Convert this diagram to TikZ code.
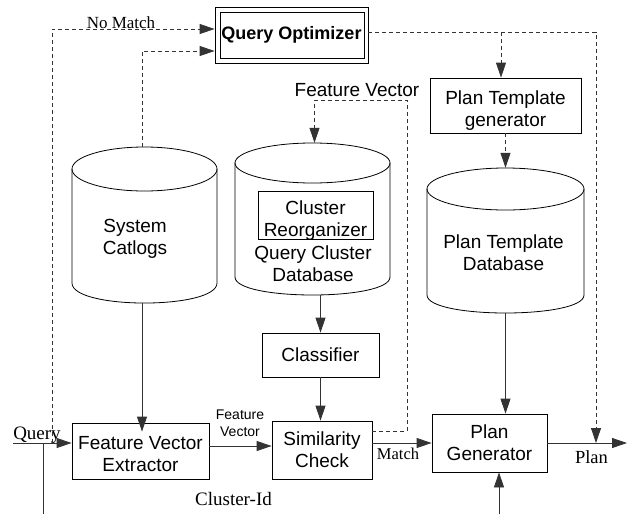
\documentclass[tikz,border=0pt]{standalone}
\usepackage{fontspec}
\setmainfont{Liberation Serif}
\setsansfont{Liberation Sans}
\usetikzlibrary{arrows.meta,calc}
\definecolor{ln}{gray}{0.2}
\begin{document}
\begin{tikzpicture}[x=1pt,y=-1pt,
  box/.style={draw=black, line width=0.8pt, inner sep=0pt},
  sf/.style={font=\sffamily\fontsize{19}{22}\selectfont, align=center, inner sep=0pt},
  sfl/.style={font=\sffamily\fontsize{19}{22}\selectfont, inner sep=0pt},
  sfs/.style={font=\sffamily\fontsize{14}{17}\selectfont, align=center, inner sep=0pt},
  sr/.style={font=\fontsize{19}{22}\selectfont, inner sep=0pt, anchor=base},
  cyl/.style={draw=black, line width=0.8pt},
  conn/.style={draw=ln, line width=0.8pt},
  tip/.style={-{Triangle[length=15pt,width=10pt]}},
  dsh/.style={dash pattern=on 4pt off 3pt},
  ghost/.style={inner sep=0pt, draw=none}
]
\useasboundingbox (0,0) rectangle (628,514);

% Query Optimizer
\node[box, minimum width=153pt, minimum height=56pt, font=\sffamily\bfseries\fontsize{18}{21}\selectfont] (qo) at (291.5,35) {Query Optimizer};
\draw[line width=0.8pt] ([shift={(6,6)}]qo.north west) rectangle ([shift={(-4,-5)}]qo.south east);

% Plan Template generator
\node[box, minimum width=151pt, minimum height=55pt] (ptg) at (505.5,105.5) {};
\node[sf] (ptgt) at (505.5,110.5) {Plan Template\\generator};

% Feature Vector Extractor
\node[box, minimum width=137pt, minimum height=56pt] (fve) at (140.5,451) {};
\node[sf] (fvet) at (140.5,454) {Feature Vector\\Extractor};

% Similarity, Plan Generator, Classifier
\node[box, sf, minimum width=100pt, minimum height=58pt] (simc) at (322,450) {Similarity\\Check};
\node[box, sf, minimum width=115pt, minimum height=58pt] (pg) at (489.5,443) {Plan\\Generator};
\node[box, sf, minimum width=117pt, minimum height=44pt] (clf) at (320.5,355) {Classifier};

% System Catlogs cylinder
\node[ghost, minimum width=145pt, minimum height=156pt] (sc) at (144.5,225) {};
\draw[cyl] (144.5,169) ellipse [x radius=72.5, y radius=22];
\draw[cyl] (72,169) -- (72,283) .. controls (72,309.7) and (217,309.7) .. (217,283) -- (217,169);
\node[sf] (sct) at (135,238.5) {System\\Catlogs};

% Query Cluster Database cylinder
\node[ghost, minimum width=155pt, minimum height=152pt] (qcd) at (312.5,219) {};
\draw[cyl] (312.5,163) ellipse [x radius=77.5, y radius=20];
\draw[cyl] (235,163) -- (235,277) .. controls (235,301) and (390,301) .. (390,277) -- (390,163);
\node[sf] (qcdt) at (313,264) {Query Cluster\\Database};
\node[box, minimum width=115pt, minimum height=48pt] (crg) at (315.5,215) {};
\node[sf] (crgt) at (315.5,221) {Cluster\\Reorganizer};

% Plan Template Database cylinder
\node[ghost, minimum width=157pt, minimum height=145pt] (ptd) at (505.5,240.5) {};
\draw[cyl] (505.5,189) ellipse [x radius=78.5, y radius=21];
\draw[cyl] (427,189) -- (427,295) .. controls (427,319) and (584,319) .. (584,295) -- (584,189);
\node[sf] (ptdt) at (503.5,253) {Plan Template\\Database};

% labels
\node[sr, font=\fontsize{17}{20}\selectfont] (nomatch) at (121,28) {No Match};
\node[sfl, anchor=base] (fvlab) at (357,96) {Feature Vector};
\node[sfs] (fvsmall) at (240,423) {Feature\\Vector};
\node[sr] (qlab) at (37,439) {Query};
\node[sr] (cid) at (233.5,505) {Cluster-Id};
\node[sr, font=\fontsize{16.5}{20}\selectfont] (mlab) at (398,459) {Match};
\node[sr, font=\fontsize{18.5}{22}\selectfont] (plab) at (591.5,463) {Plan};

% coordinates
\coordinate (qin) at (13,443);
\coordinate (qdn) at (43,443);
\coordinate (qdb) at (43,514);
\coordinate (nmj) at (52,443);
\coordinate (tj) at (501,32);
\coordinate (pj) at (596,443);
\coordinate (pout) at (627,443);
\coordinate (pgin) at (499,514);
\coordinate (fvA) at (407,100);
\coordinate (scb) at ([xshift=-2.5pt]sc.south);
\coordinate (sct0) at ([xshift=-2.5pt]sc.north);
\coordinate (f1) at ([yshift=5pt]fve.east);
\coordinate (s1) at ([yshift=19pt]simc.east);
\coordinate (qtop) at ([xshift=2pt]qcd.north);

% connectors
\draw[conn,tip] (qin) -- (qin -| fve.west);
\draw[conn] (qdn) -- (qdb);
\draw[conn,dsh,tip] (nmj) |- ([yshift=6pt]qo.west);
\draw[conn,dsh,tip] (sct0) |- ([yshift=-16pt]qo.west);
\draw[conn,dsh,tip] ([yshift=3pt]qo.east) -| (pj);
\draw[conn,dsh,tip] (tj) -- (tj |- ptg.north);
\draw[conn,dsh,tip] (ptg.south) -- (ptd.north);
\draw[conn,tip] (ptd.south) -- (ptd.south |- pg.north);
\draw[conn,tip] (pgin) -- (pgin |- pg.south);
\draw[conn,tip] (pg.east) -- (pout);
\draw[conn,tip] (scb) -- ($(scb |- fve.north)+(0,9)$);
\draw[conn,tip] (f1) -- (f1 -| simc.west);
\draw[conn,tip] (simc.east |- pg.west) -- (pg.west);
\draw[conn,dsh,tip] (s1) -| (fvA) -| (qtop);
\draw[conn,tip] (clf.north |- qcd.south) -- (clf.north);
\draw[conn,tip] (clf.south) -- (clf.south |- simc.north);
\end{tikzpicture}
\end{document}
